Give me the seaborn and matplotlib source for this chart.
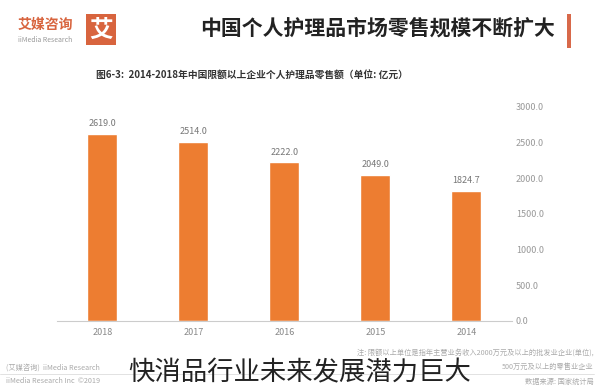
import pandas as pd
import matplotlib.pyplot as plt
import seaborn as sns
from matplotlib.patches import Rectangle

# data (chart in reference is mirrored: 2018 on the left, axis on the right)
years = ["2018", "2017", "2016", "2015", "2014"]
sales = [2619.0, 2514.0, 2222.0, 2049.0, 1824.7]
yticks = [0, 500, 1000, 1500, 2000, 2500, 3000]

df = pd.DataFrame({"year": years, "sales": sales})

sns.set_theme(style="white")
plt.rcParams['font.family'] = ['Noto Sans CJK SC', 'DejaVu Sans']

fig = plt.figure(figsize=(6, 3.9), dpi=100)
ax = fig.add_axes([0.095, 0.177, 0.758, 0.549])

sns.barplot(data=df, x="year", y="sales", order=years, color="#ED7D31",
            width=0.33, saturation=1, ax=ax)
ax.set_ylim(0, 3000)
ax.set_xlim(-0.5, 4.5)
ax.set_yticks(yticks)
ax.set_yticklabels([f"{v:.1f}" for v in yticks], fontsize=6.5, color="#999999")
ax.yaxis.tick_right()
ax.tick_params(axis="y", length=0, pad=3)
ax.tick_params(axis="x", length=0, labelsize=6.5, labelcolor="#888888", pad=5)
ax.set_xlabel("")
ax.set_ylabel("")
for s in ["top", "left", "right"]:
    ax.spines[s].set_visible(False)
ax.spines["bottom"].set_color("#cccccc")
ax.spines["bottom"].set_linewidth(0.8)

# value labels
ax.bar_label(ax.containers[0], labels=[f"{v:.1f}" for v in sales],
             fontsize=6.5, color="#777777", padding=4)

# header: logo
fig.patches.append(Rectangle((0.143, 0.885), 0.05, 0.078, transform=fig.transFigure,
                             facecolor="#D8643E", edgecolor="none"))
fig.text(0.168, 0.924, "艾", fontsize=17, fontweight="bold", color="white",
         ha="center", va="center")
fig.text(0.075, 0.936, "艾媒咨询", fontsize=10, fontweight="bold", color="#D8643E",
         ha="center", va="center")
fig.text(0.075, 0.897, "iiMedia Research", fontsize=5, color="#999999",
         ha="center", va="center")

# header: title with bar
fig.text(0.925, 0.927, "中国个人护理品市场零售规模不断扩大", fontsize=15, fontweight="bold",
         color="#222222", ha="right", va="center")
fig.patches.append(Rectangle((0.945, 0.878), 0.007, 0.085, transform=fig.transFigure,
                             facecolor="#D8694A", edgecolor="none"))

# chart subtitle
fig.text(0.42, 0.808, "图6-3:  2014-2018年中国限额以上企业个人护理品零售额（单位: 亿元）",
         fontsize=7, fontweight="bold", color="#333333", ha="center", va="center")

# footer notes
note_c = "#aaaaaa"
fig.text(0.99, 0.097, "注: 限额以上单位是指年主营业务收入2000万元及以上的批发业企业(单位),",
         fontsize=5.2, color=note_c, ha="right", va="center")
fig.text(0.99, 0.058, "500万元及以上的零售业企业",
         fontsize=5.2, color=note_c, ha="right", va="center")
fig.text(0.99, 0.022, "数据来源: 国家统计局",
         fontsize=5.2, color=note_c, ha="right", va="center")
fig.text(0.01, 0.058, "(艾媒咨询)  iiMedia Research",
         fontsize=5.2, color=note_c, ha="left", va="center")
fig.text(0.01, 0.022, "iiMedia Research Inc  ©2019",
         fontsize=5.2, color=note_c, ha="left", va="center")
fig.lines.append(plt.Line2D([0.0, 0.99], [0.04, 0.04], transform=fig.transFigure,
                            color="#dddddd", linewidth=0.6))

# overlay caption
fig.text(0.5, 0.045, "快消品行业未来发展潜力巨大", fontsize=19, fontweight="light",
         color="#222222", ha="center", va="center")

fig.savefig("out.png", dpi=100)
